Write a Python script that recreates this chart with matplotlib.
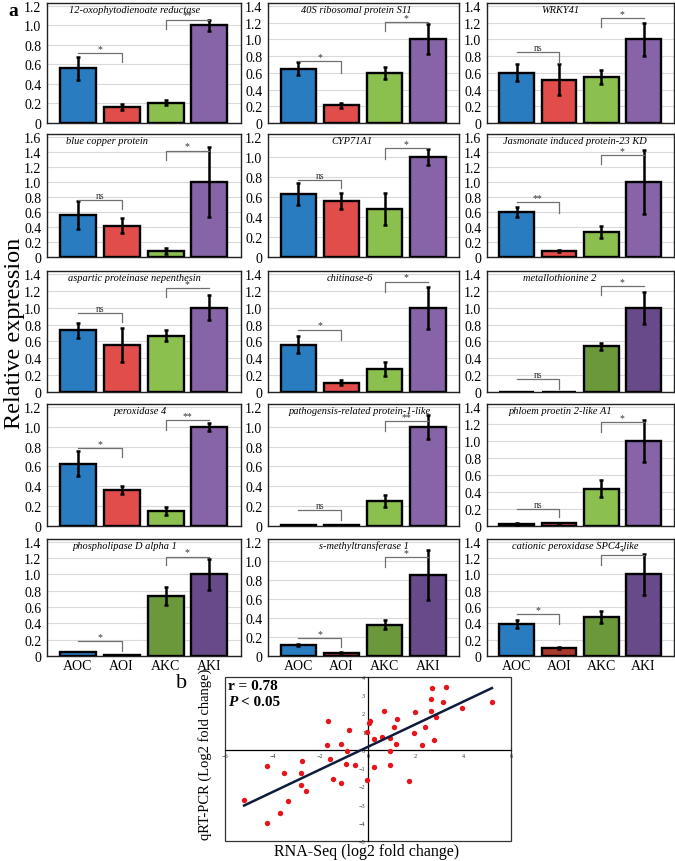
import matplotlib.pyplot as plt
from matplotlib.patches import Rectangle

plt.rcParams['font.family'] = ['Liberation Serif', 'DejaVu Serif']

# ---- data: panel a ----
groups = ["AOC", "AOI", "AKC", "AKI"]
genes = [
    "12-oxophytodienoate reductase", "40S ribosomal protein S11", "WRKY41",
    "blue copper protein", "CYP71A1", "Jasmonate induced protein-23 KD",
    "aspartic proteinase nepenthesin", "chitinase-6", "metallothionine 2",
    "peroxidase 4", "pathogensis-related protein-1-like", "phloem proetin 2-like A1",
    "phospholipase D alpha 1", "s-methyltransferase 1", "cationic peroxidase SPC4-like",
]
means = [
    [0.56, 0.16, 0.21, 1.00], [0.65, 0.21, 0.60, 1.00], [0.60, 0.52, 0.55, 1.00],
    [0.56, 0.42, 0.08, 1.00], [0.63, 0.56, 0.48, 1.00], [0.60, 0.08, 0.33, 1.00],
    [0.73, 0.56, 0.67, 1.00], [0.56, 0.11, 0.27, 1.00], [0.004, 0.004, 0.54, 1.00],
    [0.63, 0.36, 0.15, 1.00], [0.01, 0.01, 0.25, 1.00], [0.02, 0.03, 0.44, 1.00],
    [0.05, 0.01, 0.74, 1.00], [0.12, 0.03, 0.33, 0.85], [0.39, 0.10, 0.48, 1.00],
]
errs = [
    [0.12, 0.03, 0.03, 0.06], [0.08, 0.025, 0.07, 0.18], [0.10, 0.19, 0.08, 0.20],
    [0.19, 0.10, 0.04, 0.47], [0.11, 0.08, 0.16, 0.08], [0.07, 0.01, 0.08, 0.43],
    [0.09, 0.20, 0.07, 0.15], [0.10, 0.03, 0.08, 0.25], [0.0, 0.0, 0.04, 0.19],
    [0.13, 0.04, 0.04, 0.04], [0.0, 0.0, 0.06, 0.12], [0.01, 0.01, 0.10, 0.25],
    [0.0, 0.0, 0.11, 0.19], [0.01, 0.01, 0.05, 0.26], [0.05, 0.01, 0.07, 0.25],
]
ytop = [1.2, 1.4, 1.4, 1.6, 1.2, 1.6, 1.4, 1.4, 1.4, 1.2, 1.2, 1.4, 1.4, 1.2, 1.4]

# significance brackets: (label, line height, end of drop)
sig_left = [
    ("*", 0.72, 0.63), ("*", 0.745, 0.60), ("ns", 0.85, 0.72),
    ("ns", 0.76, 0.64), ("ns", 0.77, 0.69), ("**", 0.73, 0.59),
    ("ns", 0.94, 0.83), ("*", 0.74, 0.62), ("ns", 0.16, 0.03),
    ("*", 0.79, 0.70), ("ns", 0.16, 0.06), ("ns", 0.20, 0.10),
    ("*", 0.18, 0.06), ("*", 0.19, 0.09), ("*", 0.51, 0.39),
]
sig_right = [
    ("**", 1.06, 0.96), ("*", 1.21, 1.10), ("*", 1.26, 1.15),
    ("*", 1.42, 1.29), ("*", 1.09, 0.98), ("*", 1.36, 1.24),
    ("*", 1.23, 1.13), ("*", 1.31, 1.19), ("*", 1.26, 1.15),
    ("**", 1.07, 0.97), ("**", 1.06, 0.96), ("*", 1.22, 1.11),
    ("*", 1.22, 1.11), ("*", 1.04, 0.94), ("*", 1.24, 1.11),
]

# ---- data: panel b ----
rnaseq = [-5.19, -4.22, -4.25, -3.68, -3.54, -3.34, -2.81, -2.81, -2.76, -2.59,
          -1.73, -1.67, -1.58, -1.48, -1.13, -1.15, -0.80, -0.88, -0.92, -0.55,
          -0.04, 0.03, 0.10, -0.05, 0.24, 0.24, 0.57, 0.67, 0.94, 0.92,
          0.91, 1.10, 1.18, 1.20, 1.72, 1.92, 1.96, 2.28, 2.41, 2.66,
          2.64, 2.70, 2.78, 2.85, 3.15, 3.27, 3.93, 5.20]
qpcr = [-2.75, -0.90, -4.00, -3.48, -1.26, -2.78, -1.26, -1.90, -0.62, -2.25,
        0.29, 1.61, -0.51, -1.59, 0.33, -1.81, 1.08, -0.07, -0.77, -0.81,
        1.00, 1.50, 1.58, -1.67, 0.60, -0.95, 0.71, 2.14, 0.66, -0.05,
        -0.82, 1.26, 0.33, 1.72, -1.69, 0.93, 2.09, 0.29, 1.26, 2.80,
        2.16, 3.39, 0.53, 1.81, 2.62, 3.46, 2.29, 2.65]
fit_range = [-5.2, 5.2]
fit_slope = 0.62
fit_intercept = 0.17

# ---- styling ----
blue, red, green, purple = "#2A7CC0", "#E04D4A", "#8BBF4E", "#8763A7"
dred, dgreen, dpurple = "#A83A2E", "#6A983A", "#684A8A"
panel_colors = [[blue, red, green, purple]] * 15
panel_colors[8] = [blue, red, dgreen, dpurple]
panel_colors[12] = [blue, red, dgreen, dpurple]
panel_colors[13] = [blue, dred, dgreen, dpurple]
panel_colors[14] = [blue, dred, dgreen, dpurple]
title_x = [0.45, 0.46, 0.39, 0.31, 0.44, 0.47, 0.45, 0.43, 0.39,
           0.48, 0.48, 0.39, 0.40, 0.50, 0.47]

W, H = 675, 862
fig = plt.figure(figsize=(W / 100, H / 100), dpi=100)


def px_axes(left, top, right, bottom):
    return fig.add_axes([left / W, 1 - bottom / H, (right - left) / W, (bottom - top) / H])


col_px = [(47, 241), (268, 459), (487, 674)]
row_px = [(4, 124), (135, 258), (272, 393), (405, 527), (540, 657)]
xs = list(range(len(groups)))

for i, gene in enumerate(genes):
    r, c = divmod(i, 3)
    ax = px_axes(col_px[c][0], row_px[r][0], col_px[c][1], row_px[r][1])
    ax.bar(xs, means[i], width=0.82, color=panel_colors[i], edgecolor="black",
           linewidth=1.7, zorder=3)
    for x, m, e in zip(xs, means[i], errs[i]):
        if e > 0:
            ax.errorbar(x, m, yerr=e, fmt="none", ecolor="black", elinewidth=1.8,
                        capsize=1.6, capthick=1.8, zorder=4)
    ticks = [round(0.2 * k, 1) for k in range(int(round(ytop[i] / 0.2)) + 1)]
    ax.set_yticks(ticks)
    ax.set_yticklabels(["0" if t == 0 else "%.1f" % t for t in ticks])
    ax.set_ylim(0, ytop[i] * 1.025)
    ax.set_xlim(-0.7, 3.72)
    ax.yaxis.grid(True, color="#d9d9d9", linewidth=0.8, zorder=0)
    ax.set_axisbelow(True)
    ax.tick_params(axis="y", length=0, labelsize=10, pad=4)
    ax.tick_params(axis="x", length=0, labelsize=10, pad=2)
    if r == 4:
        ax.set_xticks(xs)
        ax.set_xticklabels(groups)
    else:
        ax.set_xticks([])
    for s in ax.spines.values():
        s.set_linewidth(1.0)
        s.set_color("#222222")
    ax.text(title_x[i], 0.985, gene, transform=ax.transAxes, ha="center", va="top",
            fontsize=7.5, style="italic", zorder=6)

    # brackets
    lab, yh, yd = sig_left[i]
    ax.plot([0, 1, 1], [yh, yh, yd], color="#707070", linewidth=0.9, zorder=5)
    ax.text(0.5, yh, lab, ha="center", va="bottom", fontsize=7, color="#333333", zorder=6)
    lab, yh, yd = sig_right[i]
    ax.plot([2, 2, 3], [yd, yh, yh], color="#707070", linewidth=0.9, zorder=5)
    ax.text(2.5, yh, lab, ha="center", va="bottom", fontsize=7, color="#333333", zorder=6)

fig.text(0.012, 1 - 11 / H, "a", fontsize=14, fontweight="bold", va="center")
fig.text(15 / W, 1 - 333 / H, "Relative expression", fontsize=17.5, rotation=90,
         ha="center", va="center")

# ---- panel b ----
sc = px_axes(225, 678, 511, 842)
sc.scatter(rnaseq, qpcr, s=15, color="#E8141B", zorder=3, linewidths=0)
sc.plot(fit_range, [fit_slope * v + fit_intercept for v in fit_range],
        color="#0E1B3C", linewidth=1.8, zorder=4)
sc.set_xlim(-6, 6)
sc.set_ylim(-5, 4)
sc.spines["left"].set_position("zero")
sc.spines["bottom"].set_position("zero")
sc.spines["top"].set_visible(False)
sc.spines["right"].set_visible(False)
for s in ("left", "bottom"):
    sc.spines[s].set_linewidth(0.9)
sc.add_patch(Rectangle((0, 0), 1, 1, transform=sc.transAxes, fill=False,
                       linewidth=0.9, edgecolor="#333333", clip_on=False))
sc.set_xticks([-6, -4, -2, 0, 2, 4, 6])
sc.set_yticks(list(range(-5, 5)))
sc.tick_params(length=0, labelsize=4.5, pad=2, labelcolor="#333333")
sc.text(0.01, 0.985, "r = 0.78", transform=sc.transAxes, ha="left", va="top",
        fontsize=11, fontweight="bold")
sc.text(0.01, 0.89, "P", transform=sc.transAxes, ha="left", va="top",
        fontsize=11, fontweight="bold", style="italic")
sc.text(0.055, 0.89, "< 0.05", transform=sc.transAxes, ha="left", va="top",
        fontsize=11, fontweight="bold")

fig.text(182 / W, 1 - 684 / H, "b", fontsize=16, ha="center", va="center")
fig.text(205 / W, 1 - 754 / H, "qRT-PCR (Log2 fold change)", fontsize=10.5,
         rotation=90, ha="center", va="center")
fig.text(367 / W, 1 - 852 / H, "RNA-Seq (log2 fold change)", fontsize=11.5,
         ha="center", va="center")

fig.savefig("out.png", dpi=100)
